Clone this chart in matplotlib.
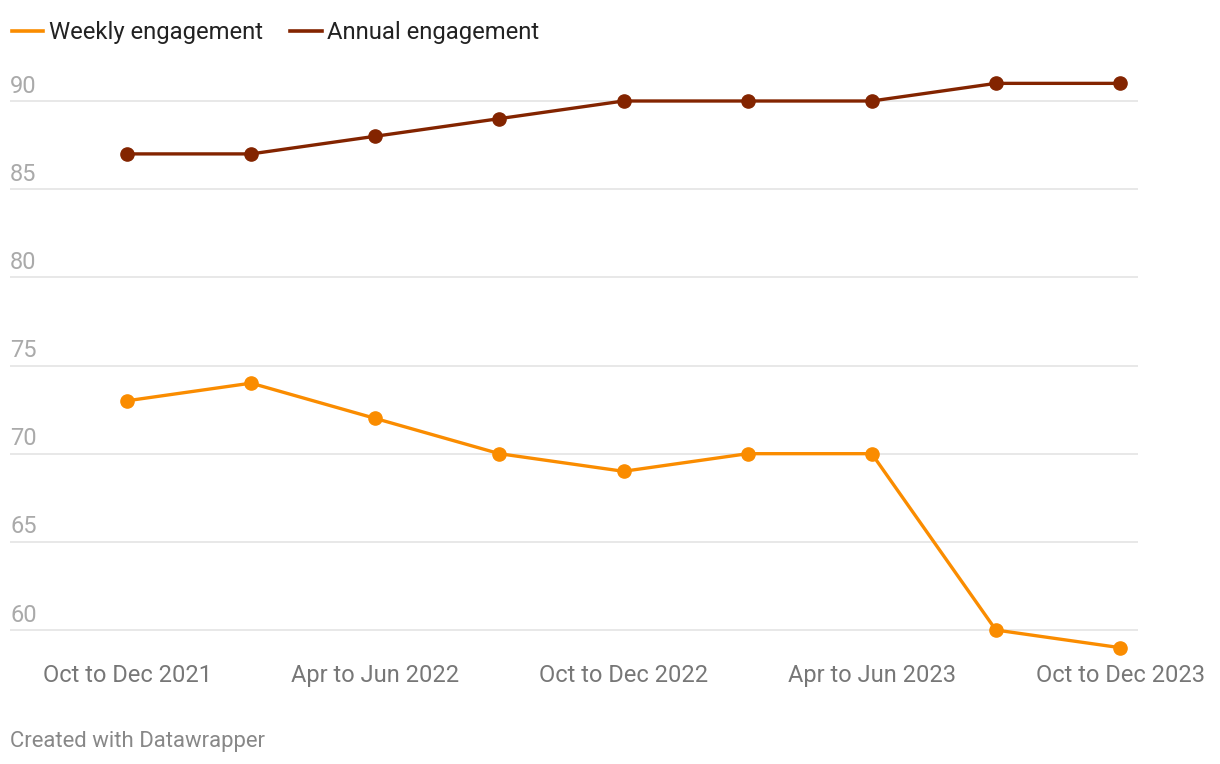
import matplotlib
matplotlib.use("Agg")
import matplotlib.pyplot as plt
from matplotlib.lines import Line2D

plt.rcParams["font.family"] = ["Roboto", "DejaVu Sans"]

QUARTERS = ["Oct to Dec 2021", "Jan to Mar 2022", "Apr to Jun 2022", "Jul to Sep 2022",
            "Oct to Dec 2022", "Jan to Mar 2023", "Apr to Jun 2023", "Jul to Sep 2023",
            "Oct to Dec 2023"]
WEEKLY = [73, 74, 72, 70, 69, 70, 70, 60, 59]
ANNUAL = [87, 87, 88, 89, 90, 90, 90, 91, 91]
Y_TICKS = [60, 65, 70, 75, 80, 85, 90]
X_LABELED = [0, 2, 4, 6, 8]

C_WEEKLY = "#fa8c00"
C_ANNUAL = "#832400"

W, H = 1220, 764
fig = plt.figure(figsize=(W / 100, H / 100), dpi=100)
# axes box in pixels: x 10..1138, y 60..660 (from top)
ax = fig.add_axes([10 / W, 1 - 660 / H, 1128 / W, 600 / H])

x = list(range(len(QUARTERS)))
ax.plot(x, ANNUAL, "-o", color=C_ANNUAL, lw=2.4, ms=9.5, clip_on=False, zorder=3)
ax.plot(x, WEEKLY, "-o", color=C_WEEKLY, lw=2.4, ms=9.5, clip_on=False, zorder=3)

ax.set_xlim(-0.9426, 8.145)
ax.set_ylim(58.30, 92.325)

for v in Y_TICKS:
    ax.axhline(v, color="#e1e1e1", lw=1.1, zorder=1)
    ax.annotate(str(v), (0, v), xycoords=ax.get_yaxis_transform(),
                xytext=(0, 2.5), textcoords="offset points",
                ha="left", va="bottom", fontsize=17, color="#aaaaaa")

ax.set_yticks([])
ax.set_xticks(X_LABELED)
ax.set_xticklabels([QUARTERS[i] for i in X_LABELED], fontsize=17, color="#777777")
ax.tick_params(axis="x", length=0, pad=3)
for s in ax.spines.values():
    s.set_visible(False)

handles = [Line2D([], [], color=C_WEEKLY, lw=2.6), Line2D([], [], color=C_ANNUAL, lw=2.6)]
fig.legend(handles, ["Weekly engagement", "Annual engagement"], loc="upper left",
           bbox_to_anchor=(0 / W, 1 - 9 / H), ncol=2, frameon=False, fontsize=17.2,
           handlelength=1.3, handletextpad=0.25, columnspacing=1.15, borderpad=0,
           labelcolor="#222222")

fig.text(10 / W, 1 - 741 / H, "Created with Datawrapper", fontsize=15.9,
         color="#888888", ha="left", va="center")

fig.savefig("out.png", dpi=100)
